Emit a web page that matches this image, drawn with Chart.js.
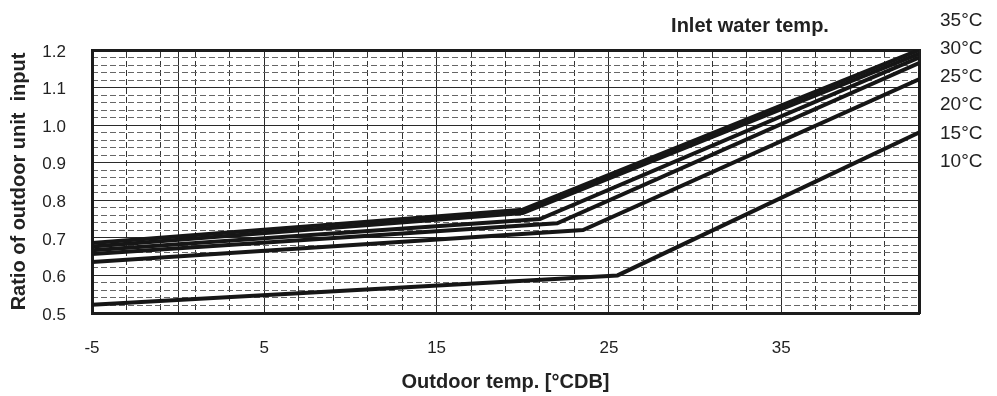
<!DOCTYPE html>
<html>
<head>
<meta charset="utf-8">
<script src="https://cdn.jsdelivr.net/npm/chart.js@4.4.1/dist/chart.umd.min.js"></script>
<style>
body { margin: 0; background: #fff; }
#wrap { width: 997px; height: 396px; position: relative; }
</style>
</head>
<body>
<div id="wrap"><canvas id="ratio"></canvas></div>
<script>
const seriesNames = ["35°C", "30°C", "25°C", "20°C", "15°C", "10°C"];

// outdoor temp (x) and ratio (y) for each inlet water temp
const outdoor35 = [-5, 20, 43];
const ratio35 = [0.686, 0.775, 1.2];
const outdoor30 = [-5, 20, 43];
const ratio30 = [0.677, 0.766, 1.19];
const outdoor25 = [-5, 21, 43];
const ratio25 = [0.667, 0.75, 1.18];
const outdoor20 = [-5, 22, 43];
const ratio20 = [0.657, 0.739, 1.165];
const outdoor15 = [-5, 23.5, 43];
const ratio15 = [0.636, 0.721, 1.122];
const outdoor10 = [-5, 25.5, 43];
const ratio10 = [0.522, 0.6, 0.98];

const xTickLabels = [-5, 5, 15, 25, 35];
const xMajorGrid = [-5, 0, 5, 15, 25, 35];
const xMinorGrid = [-3, -1, 1, 3, 7, 9, 11, 13, 17, 19, 21, 23, 27, 29, 31, 33, 37, 39, 41];
const yTickLabels = [0.5, 0.6, 0.7, 0.8, 0.9, 1.0, 1.1, 1.2];
const yMinorGrid = [];
for (const v of yTickLabels.slice(0, -1)) {
	for (const k of [0.02, 0.04, 0.06, 0.08]) yMinorGrid.push(+(v + k).toFixed(2));
}

const xs = [outdoor35, outdoor30, outdoor25, outdoor20, outdoor15, outdoor10];
const ys = [ratio35, ratio30, ratio25, ratio20, ratio15, ratio10];

const datasets = seriesNames.map((name, i) => ({
	label: name,
	data: xs[i].map((x, j) => ({x: x, y: ys[i][j]})),
	borderColor: "#161616",
	borderWidth: 4,
	pointRadius: 0,
	fill: false,
	tension: 0,
	xAxisID: "x",
	yAxisID: "y"
}));

const setTicks = (list) => (scale) => { scale.ticks = list.map(v => ({value: v})); };
const fontFam = "'Liberation Sans', Arial, sans-serif";

const sideText = {
	id: "sideText",
	afterDraw(chart) {
		const ctx = chart.ctx;
		ctx.save();
		ctx.fillStyle = "#222";
		ctx.textBaseline = "middle";
		ctx.font = "bold 20px " + fontFam;
		ctx.textAlign = "center";
		ctx.fillText("Inlet water temp.", 750, 26);
		ctx.font = "19px " + fontFam;
		ctx.textAlign = "left";
		seriesNames.forEach((name, i) => {
			ctx.fillText(name, 940, 20.5 + i * 28.2);
		});
		ctx.restore();
	}
};

new Chart("ratio", {
	type: "line",
	data: { datasets: datasets },
	options: {
		responsive: true,
		maintainAspectRatio: false,
		animation: false,
		layout: { padding: { left: 0, right: 78, top: 50, bottom: 0 } },
		plugins: { legend: { display: false }, tooltip: { enabled: false } },
		scales: {
			x: {
				type: "linear", position: "bottom", min: -5, max: 43,
				afterBuildTicks: setTicks(xMajorGrid),
				afterFit: (s) => { s.height = 83; },
				grid: { color: "#2a2a2a", lineWidth: 1, drawTicks: false },
				border: { display: true, color: "#1c1c1c", width: 3 },
				ticks: {
					padding: 25, color: "#222", maxRotation: 0, autoSkip: false,
					font: { family: fontFam, size: 17 },
					callback: (v) => xTickLabels.includes(v) ? String(v) : ""
				},
				title: {
					display: true, text: "Outdoor temp. [°CDB]", color: "#222",
					font: { family: fontFam, size: 20, weight: "bold" },
					padding: { top: 0, bottom: 2 }
				}
			},
			x2: {
				type: "linear", position: "top", min: -5, max: 43,
				afterBuildTicks: setTicks(xMinorGrid),
				afterFit: (s) => { s.height = 0; },
				grid: { color: "#333", lineWidth: 1, drawTicks: false },
				border: { display: true, color: "#1c1c1c", width: 3, dash: [6, 3] },
				ticks: { display: false }
			},
			y: {
				type: "linear", position: "left", min: 0.5, max: 1.2,
				afterBuildTicks: setTicks(yTickLabels),
				afterFit: (s) => { s.width = 92; },
				grid: { color: "#2a2a2a", lineWidth: 1, drawTicks: false },
				border: { display: true, color: "#1c1c1c", width: 3 },
				ticks: {
					padding: 26, color: "#222", labelOffset: 2,
					font: { family: fontFam, size: 17 },
					callback: (v) => v.toFixed(1)
				},
				title: {
					display: true, text: "Ratio of outdoor unit  input", color: "#222",
					font: { family: fontFam, size: 20, weight: "bold" },
					padding: { top: 7, bottom: 0 }
				}
			},
			y2: {
				type: "linear", position: "right", min: 0.5, max: 1.2,
				afterBuildTicks: setTicks(yMinorGrid),
				afterFit: (s) => { s.width = 0; },
				grid: { color: "#666", lineWidth: 1, drawTicks: false },
				border: { display: true, color: "#1c1c1c", width: 3, dash: [6, 3] },
				ticks: { display: false }
			}
		}
	},
	plugins: [sideText]
});
</script>
</body>
</html>
